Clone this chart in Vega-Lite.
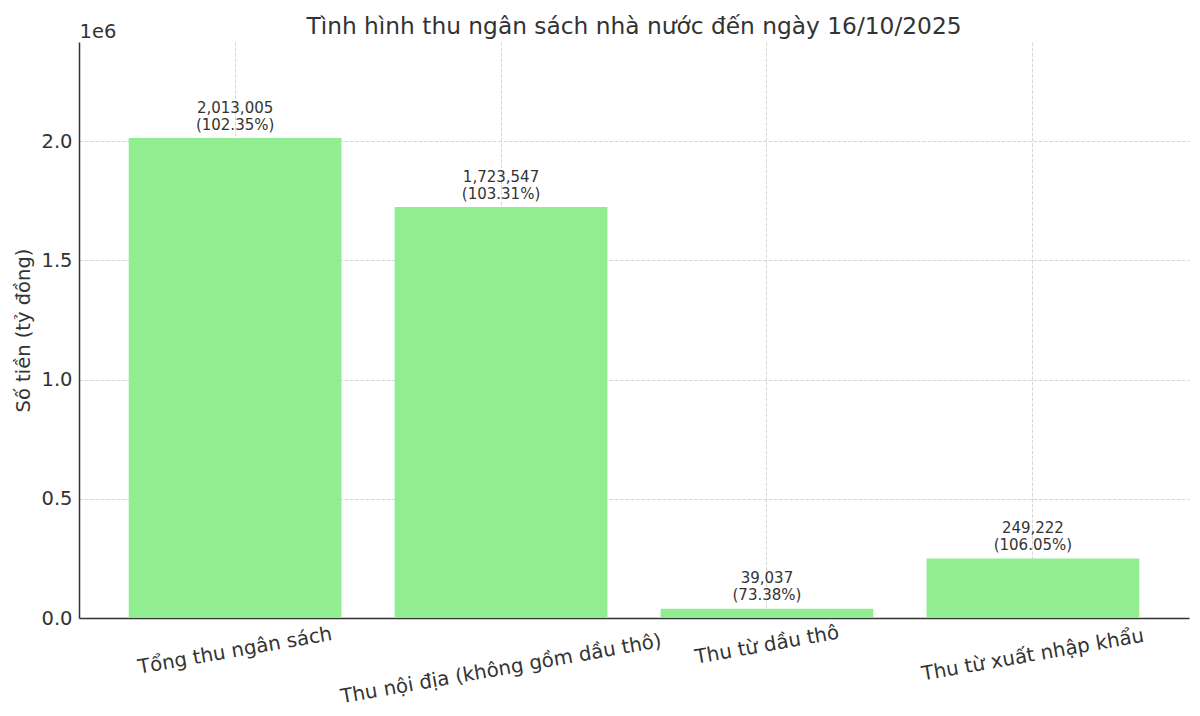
{
  "$schema": "https://vega.github.io/schema/vega-lite/v6.json",
  "autosize": "none",
  "width": 1110,
  "height": 576,
  "padding": {"left": 79, "top": 42, "right": 11, "bottom": 98},
  "background": "white",
  "config": {
    "view": {"stroke": null},
    "font": "DejaVu Sans",
    "axis": {"labelColor": "#333333", "titleColor": "#333333", "labelFont": "DejaVu Sans", "titleFont": "DejaVu Sans"}
  },
  "title": {
    "text": "Tình hình thu ngân sách nhà nước đến ngày 16/10/2025",
    "font": "DejaVu Sans",
    "fontSize": 23.3,
    "fontWeight": "normal",
    "color": "#333333",
    "anchor": "middle",
    "offset": -18
  },
  "data": {
    "values": [
      {"category": "Tổng thu ngân sách", "value": 2013005, "pct": 102.35},
      {"category": "Thu nội địa (không gồm dầu thô)", "value": 1723547, "pct": 103.31},
      {"category": "Thu từ dầu thô", "value": 39037, "pct": 73.38},
      {"category": "Thu từ xuất nhập khẩu", "value": 249222, "pct": 106.05}
    ]
  },
  "transform": [
    {"calculate": "format(datum.value, ',') + '\\n(' + format(datum.pct, '.2f') + '%)'", "as": "label"}
  ],
  "encoding": {
    "x": {
      "field": "category",
      "type": "nominal",
      "sort": null,
      "title": null,
      "scale": {"paddingInner": 0.2, "paddingOuter": 0.187},
      "axis": {
        "bandPosition": 0.5,
        "labelAngle": -10,
        "labelAlign": "center",
        "labelBaseline": "middle",
        "labelFontSize": 19.8,
        "labelPadding": {"expr": "13 + length(datum.label) * 1.41"},
        "labelLimit": 0,
        "tickSize": -6,
        "tickColor": "#333333",
        "tickWidth": 1.2,
        "domainColor": "#333333",
        "domainWidth": 1.5,
        "grid": true,
        "gridColor": "#cccccc",
        "gridDash": [3.7, 1.6],
        "gridWidth": 0.8
      }
    }
  },
  "layer": [
    {
      "mark": {"type": "bar", "color": "#90EE90"},
      "encoding": {
        "y": {
          "field": "value",
          "type": "quantitative",
          "title": "Số tiền (tỷ đồng)",
          "scale": {"domain": [0, 2415606], "nice": false},
          "axis": {
            "values": [0, 500000, 1000000, 1500000, 2000000],
            "labelExpr": "format(datum.value / 1000000, '.1f')",
            "labelFontSize": 19.5,
            "labelPadding": 7,
            "ticks": false,
            "titleFontSize": 19.5,
            "titleFontWeight": "normal",
            "titlePadding": 7,
            "domainColor": "#333333",
            "domainWidth": 1.5,
            "grid": true,
            "gridColor": "#cccccc",
            "gridDash": [3.7, 1.6],
            "gridWidth": 0.8
          }
        }
      }
    },
    {
      "mark": {"type": "text", "baseline": "bottom", "align": "center", "dy": -22.5, "fontSize": 15, "color": "#333333", "lineBreak": "\n", "lineHeight": 17},
      "encoding": {
        "y": {
          "field": "value",
          "type": "quantitative",
          "axis": {
            "orient": "right",
            "domain": false,
            "ticks": false,
            "labels": false,
            "grid": false,
            "title": "1e6",
            "titleAngle": 0,
            "titleAlign": "left",
            "titleBaseline": "bottom",
            "titleX": -1110,
            "titleY": -1,
            "titleFontSize": 19.5,
            "titleFontWeight": "normal"
          }
        },
        "text": {"field": "label", "type": "nominal"}
      }
    }
  ],
  "resolve": {"axis": {"y": "independent"}}
}
